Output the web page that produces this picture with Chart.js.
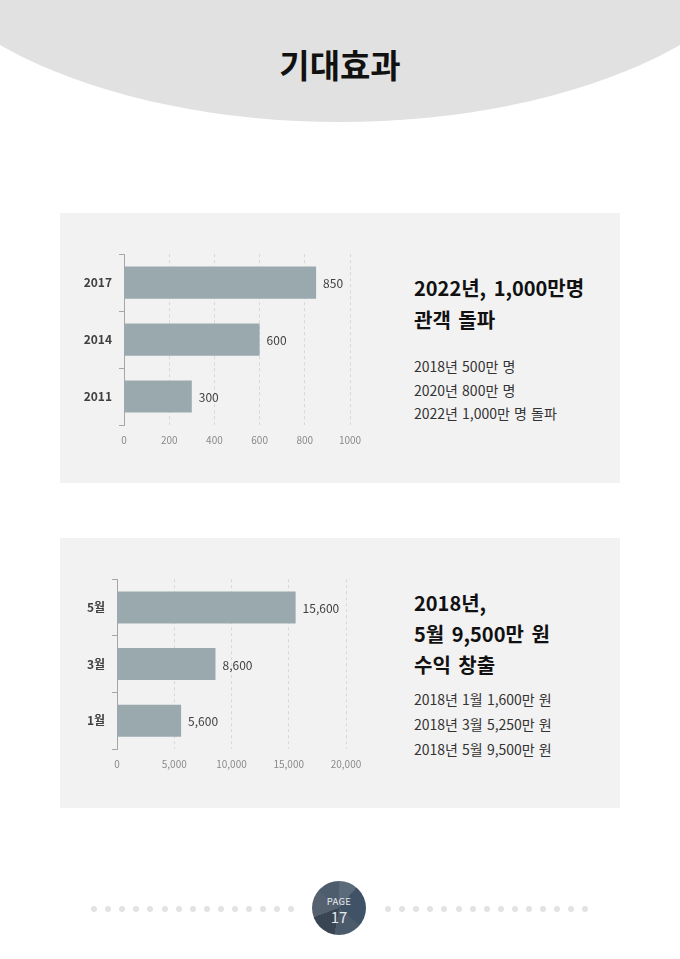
<!DOCTYPE html>
<html>
<head>
<meta charset="utf-8">
<script src="https://cdn.jsdelivr.net/npm/chart.js@4.4.0/dist/chart.umd.min.js"></script>
<style>
  html, body { margin: 0; padding: 0; background: #fff; }
  body { width: 680px; height: 959px; position: relative; overflow: hidden;
         font-family: "Noto Sans CJK KR", "Noto Sans", sans-serif; color: #222; }
  .arc { position: absolute; left: -109px; top: -322px; width: 898px; height: 444px;
         border-radius: 50%; background: #e1e1e1; }
  .title { position: absolute; left: 0; width: 680px; top: 42px; text-align: center;
           font-size: 33px; font-weight: 700; line-height: 44px; color: #111; }
  .panel { position: absolute; left: 60px; width: 560px; height: 270px; background: #f2f2f2; }
  .head { position: absolute; left: 414px; font-size: 20px; font-weight: 700; color: #111; word-spacing: 3px; }
  .list { position: absolute; left: 414px; font-size: 14px; color: #333; word-spacing: 1px; }
  canvas { position: absolute; }
  .dots { position: absolute; top: 906px; height: 6px; }
  .dot { position: absolute; top: 0; width: 6px; height: 6px; border-radius: 50%; background: #e3e3e3; }
  .page { position: absolute; left: 312px; top: 881px; width: 54px; height: 54px; border-radius: 50%;
          background: conic-gradient(#5c6b7a 0deg 40deg, #3f5266 40deg 130deg, #4b5b6c 130deg 190deg,
                                     #3a4553 190deg 250deg, #55616f 250deg 310deg, #4d5d6e 310deg 360deg);
          color: #e6e9ec; text-align: center; }
  .page div { position: absolute; left: 0; width: 54px; }
  .page .p1 { top: 15px; font-size: 9.5px; line-height: 10px; height: 10px; letter-spacing: 0.3px; }
  .page .p2 { top: 28px; font-size: 15px; line-height: 15px; height: 15px; }
</style>
</head>
<body>
<div class="arc"></div>
<div class="title">기대효과</div>

<div class="panel" style="top:213px"></div>
<div class="panel" style="top:538px"></div>

<canvas id="c1" width="310" height="215" style="left:70px; top:240px"></canvas>
<canvas id="c2" width="313" height="214" style="left:63px; top:565px"></canvas>

<div class="head" style="top:272px; line-height:32px">2022년, 1,000만명<br>관객 돌파</div>
<div class="list" style="top:355px; line-height:23.5px">2018년 500만 명<br>2020년 800만 명<br>2022년 1,000만 명 돌파</div>

<div class="head" style="top:587px; line-height:31px">2018년,<br>5월 9,500만 원<br>수익 창출</div>
<div class="list" style="top:687px; line-height:25px">2018년 1월 1,600만 원<br>2018년 3월 5,250만 원<br>2018년 5월 9,500만 원</div>

<div class="dots" id="dl" style="left:91px"></div>
<div class="dots" id="dr" style="left:385px"></div>
<div class="page"><div class="p1">PAGE</div><div class="p2">17</div></div>

<script>
// chart 1: audience (만 명)
var yearLabels = ['2017', '2014', '2011'];
var yearValues = [850, 600, 300];
var yearTicksMax = 1000;
var yearTickStep = 200;

// chart 2: revenue by month
var monthLabels = ['5월', '3월', '1월'];
var monthValues = [15600, 8600, 5600];
var monthTicksMax = 20000;
var monthTickStep = 5000;

// footer dots
['dl', 'dr'].forEach(function (id) {
  var box = document.getElementById(id);
  for (var i = 0; i < 15; i++) {
    var d = document.createElement('div');
    d.className = 'dot';
    d.style.left = (i * 14.1) + 'px';
    box.appendChild(d);
  }
});

var valueLabels = {
  id: 'valueLabels',
  afterDatasetsDraw: function (chart, args, opts) {
    var ctx = chart.ctx;
    var meta = chart.getDatasetMeta(0);
    ctx.save();
    ctx.font = '12px "Noto Sans CJK KR", sans-serif';
    ctx.fillStyle = '#404040';
    ctx.textAlign = 'left';
    ctx.textBaseline = 'middle';
    meta.data.forEach(function (bar, i) {
      var v = chart.data.datasets[0].data[i];
      var txt = opts.comma ? v.toLocaleString('en-US') : String(v);
      ctx.fillText(txt, bar.x + 7, bar.y + 1);
    });
    ctx.restore();
  }
};

function makeChart(id, labels, values, max, step, comma) {
  return new Chart(document.getElementById(id), {
    type: 'bar',
    data: {
      labels: labels,
      datasets: [{
        data: values,
        backgroundColor: '#99a9ae',
        categoryPercentage: 1,
        barPercentage: 0.565
      }]
    },
    options: {
      indexAxis: 'y',
      responsive: false,
      animation: false,
      layout: { padding: { top: 0, right: 30, left: 0, bottom: 0 } },
      plugins: {
        legend: { display: false },
        tooltip: { enabled: false },
        valueLabels: { comma: comma }
      },
      scales: {
        x: {
          min: 0,
          max: max,
          afterFit: function (s) { s.height = 30; },
          ticks: {
            stepSize: step,
            padding: 9,
            color: '#8a8a8a',
            font: { size: 10, family: '"Noto Sans CJK KR", sans-serif' },
            callback: function (v) { return comma ? v.toLocaleString('en-US') : v; }
          },
          grid: { color: '#d8d8d8', drawTicks: false, lineWidth: 1 },
          border: { display: false, dash: [3, 3] }
        },
        y: {
          afterFit: function (s) { s.width = 54; },
          ticks: {
            padding: 7,
            color: '#404040',
            font: { size: 12, weight: 'bold', family: '"Noto Sans CJK KR", sans-serif' }
          },
          grid: { drawOnChartArea: false, drawTicks: true, tickLength: 5, color: '#a6a6a6', offset: true },
          border: { display: true, color: '#a6a6a6' }
        }
      }
    },
    plugins: [valueLabels]
  });
}

makeChart('c1', yearLabels, yearValues, yearTicksMax, yearTickStep, false);
makeChart('c2', monthLabels, monthValues, monthTicksMax, monthTickStep, true);
</script>
</body>
</html>
